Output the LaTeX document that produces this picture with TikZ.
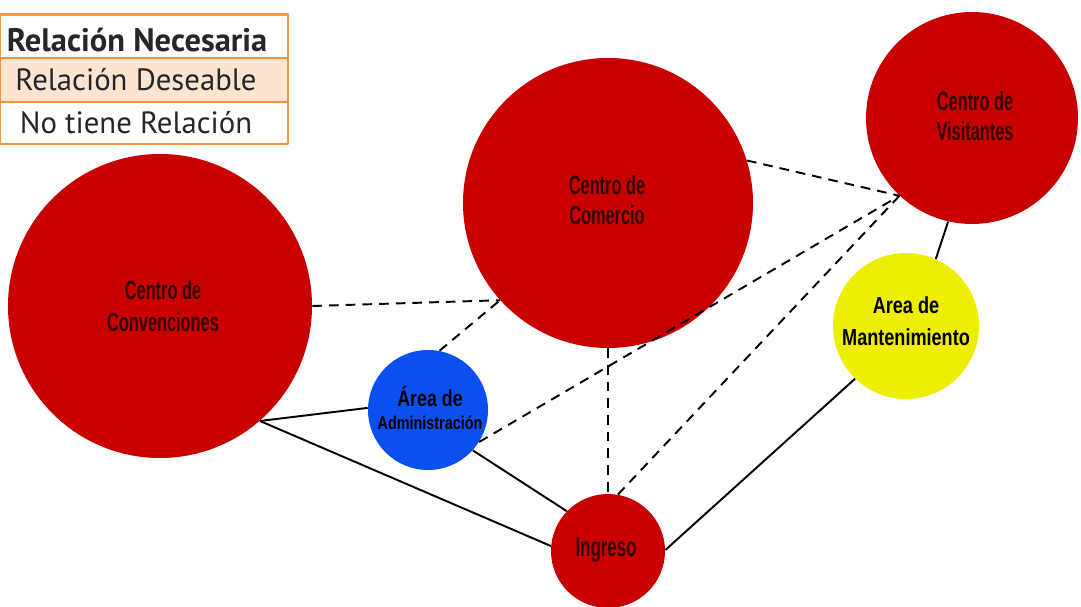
\documentclass[tikz,border=0pt]{standalone}
\usepackage{fontspec}
\setmainfont{PT Sans}
\newfontfamily\condfont[FakeStretch=0.62]{Liberation Sans}
\newfontfamily\condfontb[FakeStretch=0.78]{Liberation Sans}
\usepackage{tikz}
\usetikzlibrary{calc}
\definecolor{rojo}{RGB}{200,0,0}
\definecolor{azul}{RGB}{10,80,240}
\definecolor{amarillo}{RGB}{238,238,0}
\definecolor{naranja}{RGB}{243,150,70}
\definecolor{durazno}{RGB}{252,228,208}
\definecolor{tinta}{RGB}{50,0,0}

\begin{document}
\begin{tikzpicture}[x=0.02cm, y=-0.02cm, line join=round,
    zona/.style={circle, inner sep=0pt, align=center, text=tinta, font=\condfont\bfseries\fontsize{15}{18}\selectfont},
    nec/.style={line width=1.1pt},
    des/.style={line width=1.1pt, dash pattern=on 5.5pt off 4pt},
    leyenda/.style={text=black!85, font=\fontsize{17.5}{20}\selectfont}]
    \useasboundingbox (0,0) rectangle (1081,607);

    % zonas
    \node[zona, fill=rojo, minimum size=304*0.02cm] (conv) at (160,306) {};
    \node[zona, fill=rojo, minimum size=290*0.02cm] (comercio) at (608,203) {};
    \node[zona, fill=rojo, minimum size=212*0.02cm] (visit) at (972,118) {};
    \node[zona, fill=azul, minimum size=120*0.02cm] (admin) at (428,410) {};
    \node[zona, fill=amarillo, minimum size=146*0.02cm] (mant) at (906,326) {};
    \node[zona, fill=rojo, minimum size=114*0.02cm] (ingreso) at (608,551) {};

    % relacion necesaria
    \draw[nec] (conv.-49) -- (admin.178);
    \draw[nec] (conv.-49) -- (ingreso.175);
    \draw[nec] (admin.-42) -- (ingreso.136);
    \draw[nec] (ingreso.1) -- (mant.-134);
    \draw[nec] (visit.-103) -- (mant.66);

    % relacion deseable
    \draw[des] (conv.0) -- (comercio.-138);
    \draw[des] (admin.79) -- (comercio.-138);
    \draw[des] (admin.-32) -- (visit.-133);
    \draw[des] (comercio.17) -- (visit.-133);
    \draw[des] (comercio.-90) -- (ingreso.90);
    \draw[des] (ingreso.80) -- (visit.-133);

    % textos
    \node[zona] at (163,306) {Centro de\\Convenciones};
    \node[zona, font=\condfont\bfseries\fontsize{15}{17}\selectfont] at (607,200) {Centro de\\Comercio};
    \node[zona, font=\condfont\bfseries\fontsize{15}{17}\selectfont] at (975,116) {Centro de\\Visitantes};
    \node[zona, text=black, font=\condfontb\bfseries] at (430,408) {{\fontsize{13}{15}\selectfont Área de}\\[1pt]{\fontsize{10.5}{13}\selectfont Administración}};
    \node[zona, text=black, font=\condfontb\bfseries\fontsize{13.2}{18}\selectfont] at (906,321) {Area de\\Mantenimiento};
    \node[zona, font=\condfont\bfseries\fontsize{15.5}{17}\selectfont] at (606,550) {Ingreso};

    % leyenda
    \fill[durazno] (0,58) rectangle (288,102);
    \draw[naranja, line width=1.7pt] (0,15) rectangle (288,144);
    \draw[naranja, line width=1.7pt] (0,58) -- (288,58);
    \draw[naranja, line width=1.7pt] (0,102) -- (288,102);
    \node[leyenda, font=\bfseries\fontsize{18.5}{20}\selectfont] (ley1) at (137,40) {Relación Necesaria};
    \node[leyenda] (ley2) at (136,80) {Relación Deseable};
    \node[leyenda] (ley3) at (136,123) {No tiene Relación};
\end{tikzpicture}
\end{document}
